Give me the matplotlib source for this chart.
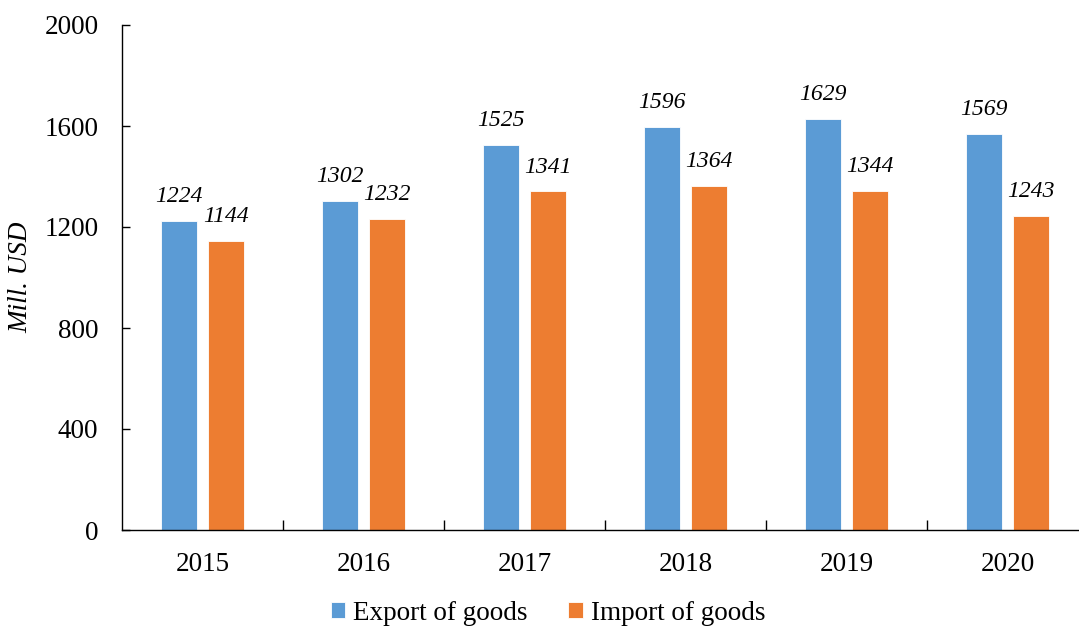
import numpy as np
import matplotlib
matplotlib.use("Agg")
import matplotlib.pyplot as plt

years = ["2015", "2016", "2017", "2018", "2019", "2020"]
exports = [1224, 1302, 1525, 1596, 1629, 1569]
imports = [1144, 1232, 1341, 1364, 1344, 1243]

plt.rcParams['font.family'] = ['Liberation Serif', 'DejaVu Serif']

fig = plt.figure(figsize=(10.79, 6.30), dpi=100)
ax = fig.add_axes([122/1079, 100/630, 966/1079, 505/630])

x = np.arange(len(years))
w = 0.225
off = 0.145
b1 = ax.bar(x - off, exports, w, color='#5B9BD5', edgecolor='white', linewidth=0.6, label='Export of goods')
b2 = ax.bar(x + off, imports, w, color='#ED7D31', edgecolor='white', linewidth=0.6, label='Import of goods')

for xi, v in zip(x - off, exports):
    ax.text(xi, v + 55, str(v), ha='center', va='bottom', fontsize=17, style='italic')
for xi, v in zip(x + off, imports):
    ax.text(xi, v + 55, str(v), ha='center', va='bottom', fontsize=17, style='italic')

ax.set_xlim(-0.5, 5.5)
ax.set_ylim(0, 2000)
ax.set_yticks([0, 400, 800, 1200, 1600, 2000])
ax.set_xticks(x)
ax.set_xticklabels(years)
ax.set_xticks(np.arange(0.5, 5.5, 1), minor=True)
ax.tick_params(axis='x', which='both', direction='in')
ax.tick_params(axis='x', which='major', length=0, pad=16, labelsize=19.5)
ax.tick_params(axis='x', which='minor', length=7, width=1)
ax.tick_params(axis='y', which='both', direction='in', length=6, width=1, labelsize=19.5, pad=17)
for s in ['top', 'right']:
    ax.spines[s].set_visible(False)
ax.spines['left'].set_linewidth(1)
ax.spines['bottom'].set_linewidth(1)
ax.set_ylabel('Mill. USD', fontsize=19.5, style='italic')
ax.yaxis.set_label_coords(-0.092, 0.5)

fig.legend(handles=[b1, b2], loc='lower center', bbox_to_anchor=(0.508, -0.032), ncol=2,
           frameon=False, fontsize=19.5, handlelength=0.52, handleheight=0.52,
           handletextpad=0.3, columnspacing=1.5)

fig.savefig('out.png', dpi=100)
